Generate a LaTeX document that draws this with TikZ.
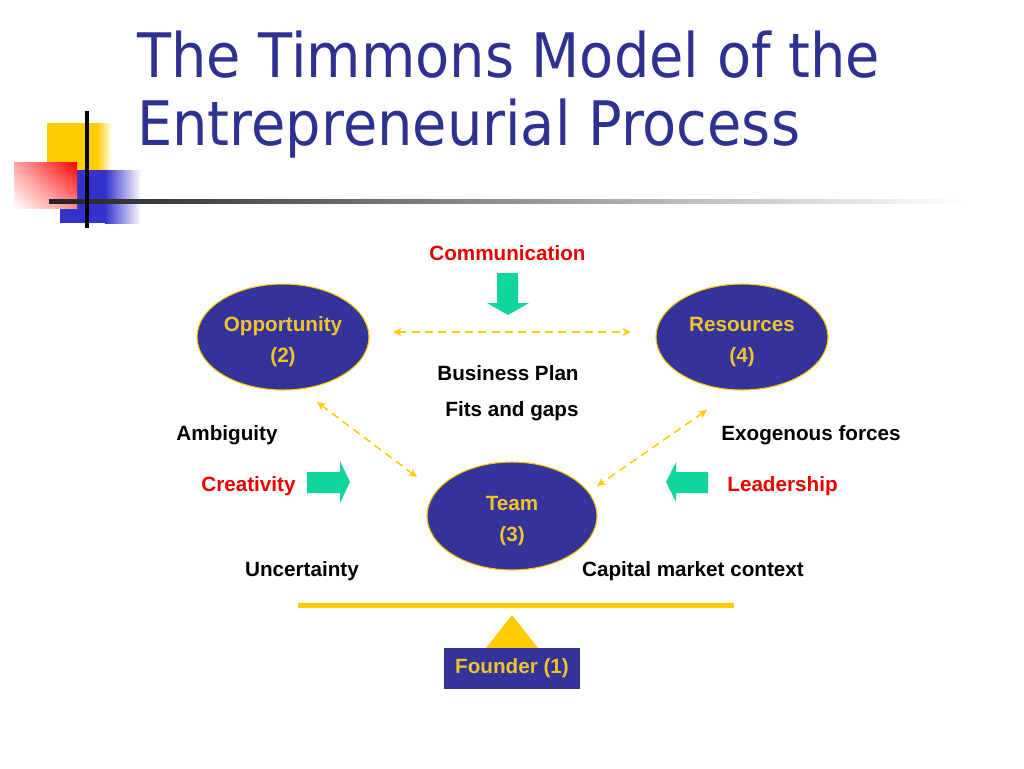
\documentclass[tikz,border=0pt]{standalone}
\usepackage{fontspec}
\setmainfont{Liberation Sans}
\newfontfamily\titlefont[FakeStretch=0.91]{DejaVu Sans}
\usetikzlibrary{shapes.geometric,arrows.meta,shadings}
\definecolor{titleblue}{RGB}{46,49,146}
\definecolor{ovalblue}{RGB}{51,51,153}
\definecolor{gold}{RGB}{255,204,0}
\definecolor{goldtext}{RGB}{240,195,45}
\definecolor{mint}{RGB}{16,214,158}
\definecolor{txtred}{RGB}{235,0,0}
\definecolor{decoblue}{RGB}{51,51,204}
\definecolor{decoline}{RGB}{34,34,34}
\begin{document}
\begin{tikzpicture}[x=0.75pt,y=-0.75pt,
  oval/.style={ellipse, draw=gold, line width=0.8pt, fill=ovalblue, minimum width=129pt, minimum height=79.5pt, inner sep=0pt},
  otext/.style={text=goldtext, font=\fontsize{15.5}{18}\selectfont\bfseries, anchor=base, inner sep=0pt},
  btext/.style={text=black, font=\fontsize{15.5}{18}\selectfont\bfseries, anchor=base, inner sep=0pt},
  rtext/.style={btext, text=txtred},
  titletext/.style={anchor=base west, inner sep=0pt, text=titleblue, font=\titlefont\fontsize{46}{50}\selectfont},
  dasharrow/.style={draw=gold, line width=1.1pt, dash pattern=on 6pt off 4pt, {Stealth[length=6.5pt,width=6pt]}-{Stealth[length=6.5pt,width=6pt]}},
  fatarrow/.style={fill=mint, draw=none}]
\useasboundingbox (0,0) rectangle (1024,768);
\fill[white] (0,0) rectangle (1024,768);

% decoration
\fill[gold] (47,123) rectangle (97.5,171);
\shade[left color=gold, right color=white] (97,123) rectangle (112,171);
\fill[decoblue] (60,170) rectangle (105.5,223);
\shade[left color=decoblue, right color=white] (105,170) rectangle (141,223);
\shade[upper right=red, upper left=red!35, lower right=red!45, lower left=white] (14,162) rectangle (77,208);
\shade[left color=decoline, middle color=decoline!70, right color=white] (49,199) rectangle (965,203);
\fill[black] (85,111) rectangle (89,228);

% title
\node[titletext] (t1) at (137,77) {The Timmons Model of the};
\node[titletext] (t2) at (137,145) {Entrepreneurial Process};

% ovals
\node[oval] (opp) at (283,337) {};
\node[otext] (opp1) at (283,331) {Opportunity};
\node[otext] (opp2) at (283,362) {(2)};
\node[oval] (res) at (742,337) {};
\node[otext] (res1) at (742,331) {Resources};
\node[otext] (res2) at (742,362) {(4)};
\node[oval, minimum width=127.5pt, minimum height=81pt] (team) at (512,516) {};
\node[otext] (team1) at (512,510) {Team};
\node[otext] (team2) at (512,541) {(3)};

% texts
\node[rtext] (comm) at (507.5,260) {Communication};
\node[btext] (bp) at (508,380) {Business Plan};
\node[btext] (fg) at (512,416) {Fits and gaps};
\node[btext] (amb) at (227,440) {Ambiguity};
\node[btext] (exo) at (811,440) {Exogenous forces};
\node[rtext] (cre) at (248.5,491) {Creativity};
\node[rtext] (lead) at (782.5,491) {Leadership};
\node[btext] (unc) at (302,576) {Uncertainty};
\node[btext] (cap) at (693,576) {Capital market context};

% fat arrows
\fill[fatarrow] (497,273) -- (518,273) -- (518,303) -- (529,303) -- (508,315) -- (487,303) -- (497,303) -- cycle;
\fill[fatarrow] (307,472) -- (340,472) -- (340,461) -- (350,482) -- (340,503) -- (340,493) -- (307,493) -- cycle;
\fill[fatarrow] (708,472) -- (676,472) -- (676,462) -- (666,482) -- (676,502) -- (676,493) -- (708,493) -- cycle;

% dashed connectors
\coordinate (hL) at (393,332);
\coordinate (hR) at (631,332);
\coordinate (dL1) at (317,402);
\coordinate (dL2) at (417,477);
\coordinate (dR1) at (707,410);
\coordinate (dR2) at (597,486);
\draw[dasharrow] (hL) -- (hR);
\draw[dasharrow] (dL1) -- (dL2);
\draw[dasharrow] (dR1) -- (dR2);

% balance
\fill[gold] (298,603) rectangle (734,608);
\fill[gold] (512,615) -- (538,648) -- (486,648) -- cycle;
\node[fill=ovalblue, draw=none, minimum width=102pt, minimum height=30.75pt, inner sep=0pt, text=goldtext, font=\fontsize{15.5}{18}\selectfont\bfseries] (founder) at (512,668.5) {Founder (1)};
\end{tikzpicture}
\end{document}
